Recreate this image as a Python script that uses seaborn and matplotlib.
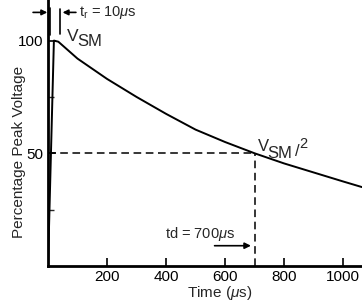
import matplotlib
matplotlib.use("Agg")
import matplotlib.pyplot as plt
import seaborn as sns
import pandas as pd

# surge waveform (time in us, % of peak)
time_us = [0, 20, 35, 100, 200, 300, 400, 500, 600, 700, 800, 900, 1000, 1064]
percent = [0, 100, 99.5, 92, 83, 75, 67.5, 60.5, 55, 50, 45.5, 41.5, 37.5, 35]
x_ticks = [200, 400, 600, 800, 1000]
y_ticks = [50, 100]
t_half = 700
v_half = 50

df = pd.DataFrame({"Time": time_us, "Percent": percent})

sns.set_theme(style="ticks")
plt.rcParams["font.family"] = ["Liberation Sans", "DejaVu Sans"]
plt.rcParams["mathtext.fontset"] = "custom"
plt.rcParams["mathtext.rm"] = "Liberation Sans"
plt.rcParams["mathtext.it"] = "Liberation Sans:italic"

fig = plt.figure(figsize=(3.62, 3.01), dpi=100)
ax = fig.add_axes([48 / 362, 35 / 301, 314 / 362, 266 / 301])

sns.lineplot(data=df, x="Time", y="Percent", ax=ax, color="black", linewidth=1.4,
             estimator=None, sort=False)

# half-value guide lines
ax.plot([0, t_half], [v_half, v_half], color="black", lw=1.1, ls=(0, (5, 3)))
ax.plot([t_half, t_half], [0, v_half], color="black", lw=1.1, ls=(0, (5, 3)))

ax.set_xlim(0, 1064)
ax.set_ylim(0, 118)
ax.set_xticks(x_ticks)
ax.set_yticks(y_ticks)
ax.set_yticks([25, 75], minor=True)
ax.tick_params(axis="both", which="major", direction="in", length=6, width=1.2,
               labelsize=11, pad=3, colors="black")
ax.tick_params(axis="y", which="minor", direction="in", length=4, width=1.0)
sns.despine(ax=ax)
for s in ["left", "bottom"]:
    ax.spines[s].set_linewidth(2)
    ax.spines[s].set_color("black")

ax.set_xlabel("Time ($\\mu$s)", fontsize=11)
ax.xaxis.set_label_coords(0.548, -0.068)
ax.set_ylabel("Percentage Peak Voltage", fontsize=11)
ax.yaxis.set_label_coords(-0.07, 0.43)

# peak label V_SM
ax.text(64, 99.6, "V", fontsize=12.5, va="baseline", ha="left")
ax.text(100, 97.4, "SM", fontsize=12, va="baseline", ha="left")

# half-value label V_SM/2
ax.text(710, 51, "V", fontsize=12, va="baseline", ha="left")
ax.text(744, 47.8, "SM", fontsize=12, va="baseline", ha="left")
ax.text(836, 48.6, "/", fontsize=12, va="baseline", ha="left")
ax.text(853, 52.3, "2", fontsize=10.5, va="baseline", ha="left")

# decay time label
ax.text(397, 12.5, "td = 700$\\mu$s", fontsize=10.5, va="baseline", ha="left")
ax.annotate("", xy=(t_half - 3, 9), xytext=(555, 9),
            arrowprops=dict(arrowstyle="-|>", color="black", lw=1.2, mutation_scale=9))

# rise-time marker above the peak
ax.plot([7, 7], [102.5, 114.5], color="black", lw=1.2, clip_on=False)
ax.plot([40, 40], [103, 114], color="black", lw=1.2, clip_on=False)
ax.annotate("", xy=(7, 112.5), xytext=(-60, 112.5), annotation_clip=False,
            arrowprops=dict(arrowstyle="-|>", color="black", lw=1.2, mutation_scale=8))
ax.annotate("", xy=(40, 112.5), xytext=(104, 112.5), annotation_clip=False,
            arrowprops=dict(arrowstyle="-|>", color="black", lw=1.2, mutation_scale=8))
ax.text(105, 112.5, "t$_{\\rm r}$ = 10$\\mu$s", fontsize=10.5, va="center", ha="left")

fig.savefig("out.png", dpi=100)
